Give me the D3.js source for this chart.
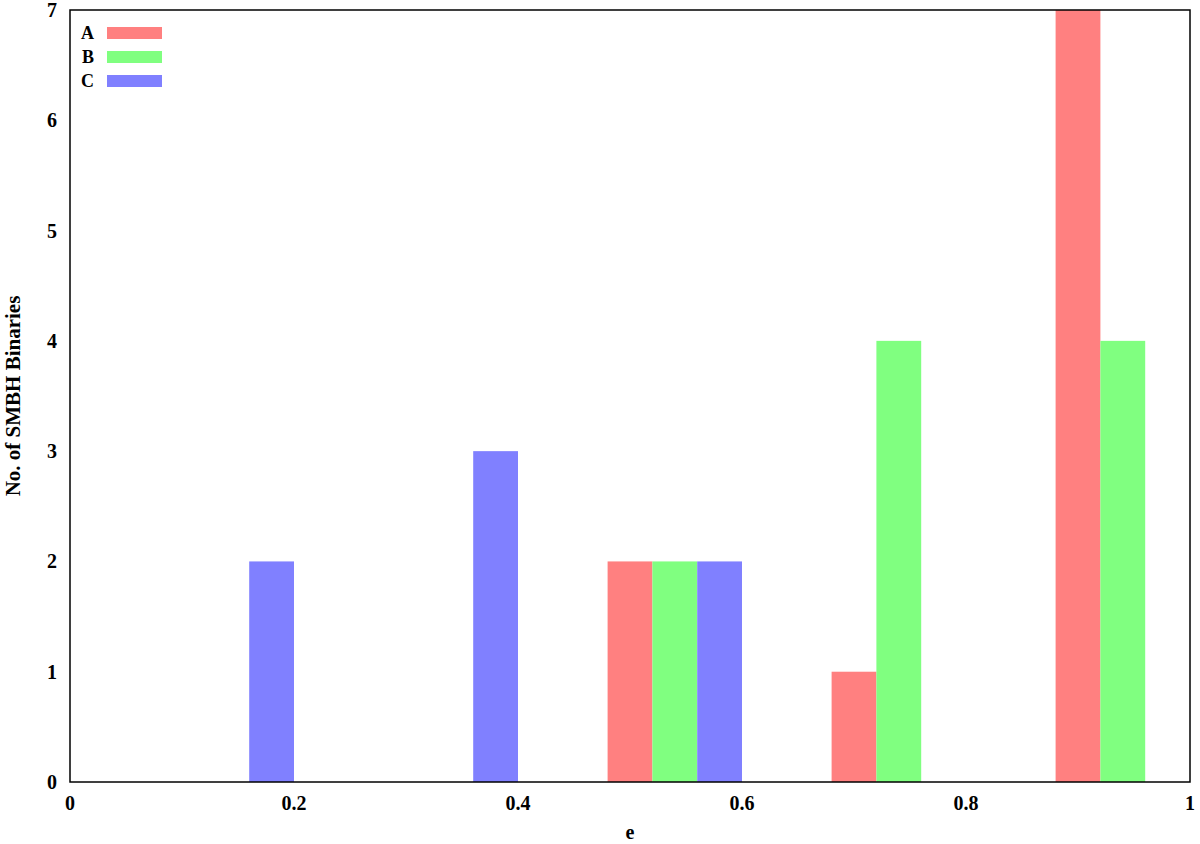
<!DOCTYPE html>
<html><head><meta charset="utf-8">
<script src="https://cdn.jsdelivr.net/npm/d3@7"></script>
<style>body{margin:0;background:#fff}svg text{font-family:"Liberation Serif","Times New Roman",serif;font-weight:bold;fill:#000}</style>
</head><body>
<svg id="c" width="1200" height="844"></svg>
<script>
const groupCenters = [0.1, 0.3, 0.5, 0.7, 0.9];
const seriesNames = ["A", "B", "C"];
const seriesA = [0, 0, 2, 1, 7];
const seriesB = [0, 0, 2, 4, 4];
const seriesC = [2, 3, 2, 0, 0];
const xTicks = [0, 0.2, 0.4, 0.6, 0.8, 1];
const yTicks = [0, 1, 2, 3, 4, 5, 6, 7];
const colors = ["#ff8080", "#80ff80", "#8080ff"];
const barWidth = 0.04;
const offsets = [0, 0.04, 0.08];

const svg = d3.select("#c");
const m = {l:70, r:1190, t:10, b:782};
const x = d3.scaleLinear().domain([0,1]).range([m.l, m.r]);
const y = d3.scaleLinear().domain([0,7]).range([m.b, m.t]);

const all = [seriesA, seriesB, seriesC];
all.forEach((vals, si) => {
  svg.append("g").selectAll("rect").data(vals.map((v,i)=>({v, c:groupCenters[i]})).filter(d=>d.v>0))
    .join("rect")
    .attr("x", d => x(d.c + offsets[si] - barWidth/2))
    .attr("width", d => x(d.c + offsets[si] + barWidth/2) - x(d.c + offsets[si] - barWidth/2))
    .attr("y", d => y(d.v))
    .attr("height", d => y(0) - y(d.v))
    .attr("fill", colors[si]);
});

// frame
svg.append("rect").attr("x", m.l).attr("y", m.t).attr("width", m.r-m.l).attr("height", m.b-m.t)
  .attr("fill","none").attr("stroke","#000").attr("stroke-width",1.5);

const fmt = d => d===0 ? "0" : d===1 ? "1" : d3.format(".1f")(d);
svg.append("g").selectAll("text").data(xTicks).join("text")
  .attr("x", d => x(d)).attr("y", 810).attr("text-anchor","middle")
  .attr("font-size", 20).text(fmt);
svg.append("g").selectAll("text").data(yTicks).join("text")
  .attr("x", 57).attr("y", d => y(d)+7).attr("text-anchor","end")
  .attr("font-size", 20).text(d=>d);

svg.append("text").attr("x", x(0.5)).attr("y", 839).attr("text-anchor","middle").attr("font-size",20).text("e");
svg.append("text").attr("transform", `translate(20,${(m.t+m.b)/2}) rotate(-90)`).attr("text-anchor","middle").attr("font-size",21).text("No. of SMBH Binaries");

// legend
seriesNames.forEach((n,i) => {
  const cy = 33 + i*24;
  svg.append("text").attr("x", 94).attr("y", cy+6).attr("text-anchor","end").attr("font-size",18).text(n);
  svg.append("rect").attr("x",107).attr("y",cy-6).attr("width",55).attr("height",12).attr("fill",colors[i]);
});
</script>
</body></html>
